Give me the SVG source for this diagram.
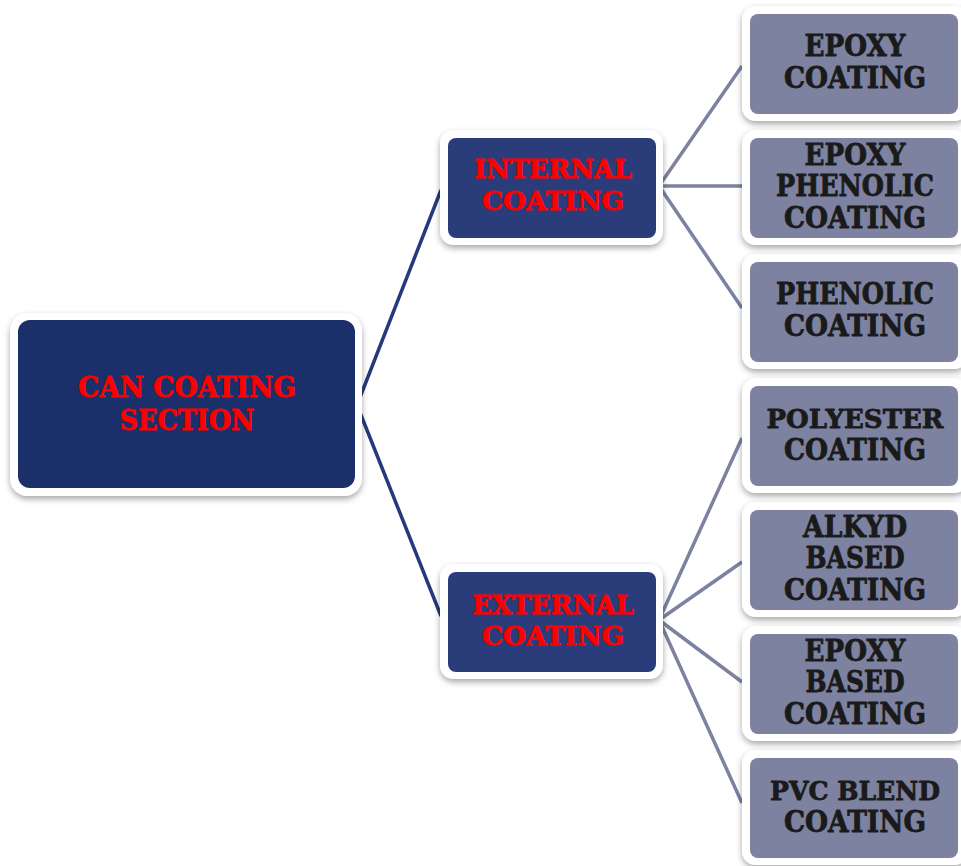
<svg xmlns="http://www.w3.org/2000/svg" width="961" height="866" viewBox="0 0 961 866">
<defs>
<filter id="sh" x="-10%" y="-10%" width="120%" height="130%">
<feDropShadow dx="0" dy="3" stdDeviation="3" flood-color="#000" flood-opacity="0.35"/>
</filter>
<style>
.frame{fill:#fff;filter:url(#sh)}
.root{fill:#1b2f6b}
.mid{fill:#2a3c7a}
.leaf{fill:#7c82a0}
.t{font-family:"DejaVu Serif",serif;font-weight:bold;text-anchor:middle;stroke-width:0.8;stroke-linejoin:round}
.red{fill:#ff0000;stroke:#ff0000}
.dark{fill:#1a1a1a;stroke:#1a1a1a}
.c1{stroke:#26397a;stroke-width:3.5;fill:none}
.c2{stroke:#7c82a0;stroke-width:3.5;fill:none}
</style>
</defs>
<rect width="961" height="866" fill="#fff"/>
<g id="connectors">
<path class="c1" d="M357 405 L441 190 M357 405 L441 616"/>
<path class="c2" d="M659 186 L742 66 M659 186 L742 186 M659 186 L742 308"/>
<path class="c2" d="M659 620 L742 438 M659 620 L742 562 M659 620 L742 682 M659 620 L742 803"/>
</g>
<g id="root">
<rect class="frame" x="10" y="313" width="352" height="183" rx="18"/>
<rect class="root" x="18" y="320" width="337" height="168" rx="12"/>
<text class="t red" font-size="28"><tspan x="187" y="397" textLength="218" lengthAdjust="spacingAndGlyphs">CAN COATING</tspan><tspan x="187" y="430" textLength="135" lengthAdjust="spacingAndGlyphs">SECTION</tspan></text>
</g>
<g id="internal">
<rect class="frame" x="440" y="130" width="223" height="115" rx="14"/>
<rect class="mid" x="448" y="138" width="208" height="100" rx="8"/>
<text class="t red" font-size="26"><tspan x="553" y="178" textLength="158" lengthAdjust="spacingAndGlyphs">INTERNAL</tspan><tspan x="553" y="210" textLength="142" lengthAdjust="spacingAndGlyphs">COATING</tspan></text>
</g>
<g id="external">
<rect class="frame" x="440" y="564" width="223" height="115" rx="14"/>
<rect class="mid" x="448" y="572" width="208" height="100" rx="8"/>
<text class="t red" font-size="26"><tspan x="553" y="614" textLength="162" lengthAdjust="spacingAndGlyphs">EXTERNAL</tspan><tspan x="553" y="645" textLength="142" lengthAdjust="spacingAndGlyphs">COATING</tspan></text>
</g>
<g id="leaf1">
<rect class="frame" x="742" y="6" width="226" height="115" rx="14"/>
<rect class="leaf" x="750" y="14" width="208" height="100" rx="8"/>
<text class="t dark" font-size="29"><tspan x="855" y="56" textLength="101" lengthAdjust="spacingAndGlyphs">EPOXY</tspan><tspan x="855" y="88" textLength="142" lengthAdjust="spacingAndGlyphs">COATING</tspan></text>
</g>
<g id="leaf2">
<rect class="frame" x="742" y="130" width="226" height="115" rx="14"/>
<rect class="leaf" x="750" y="138" width="208" height="100" rx="8"/>
<text class="t dark" font-size="29"><tspan x="855" y="165" textLength="101" lengthAdjust="spacingAndGlyphs">EPOXY</tspan><tspan x="855" y="196" textLength="158" lengthAdjust="spacingAndGlyphs">PHENOLIC</tspan><tspan x="855" y="228" textLength="142" lengthAdjust="spacingAndGlyphs">COATING</tspan></text>
</g>
<g id="leaf3">
<rect class="frame" x="742" y="254" width="226" height="115" rx="14"/>
<rect class="leaf" x="750" y="262" width="208" height="100" rx="8"/>
<text class="t dark" font-size="29"><tspan x="855" y="304" textLength="158" lengthAdjust="spacingAndGlyphs">PHENOLIC</tspan><tspan x="855" y="336" textLength="142" lengthAdjust="spacingAndGlyphs">COATING</tspan></text>
</g>
<g id="leaf4">
<rect class="frame" x="742" y="378" width="226" height="115" rx="14"/>
<rect class="leaf" x="750" y="386" width="208" height="100" rx="8"/>
<text class="t dark" font-size="29"><tspan x="855" y="428" textLength="177" lengthAdjust="spacingAndGlyphs" font-size="26">POLYESTER</tspan><tspan x="855" y="460" textLength="142" lengthAdjust="spacingAndGlyphs">COATING</tspan></text>
</g>
<g id="leaf5">
<rect class="frame" x="742" y="502" width="226" height="115" rx="14"/>
<rect class="leaf" x="750" y="510" width="208" height="100" rx="8"/>
<text class="t dark" font-size="29"><tspan x="855" y="537" textLength="104" lengthAdjust="spacingAndGlyphs">ALKYD</tspan><tspan x="855" y="568" textLength="99" lengthAdjust="spacingAndGlyphs">BASED</tspan><tspan x="855" y="600" textLength="142" lengthAdjust="spacingAndGlyphs">COATING</tspan></text>
</g>
<g id="leaf6">
<rect class="frame" x="742" y="626" width="226" height="115" rx="14"/>
<rect class="leaf" x="750" y="634" width="208" height="100" rx="8"/>
<text class="t dark" font-size="29"><tspan x="855" y="661" textLength="101" lengthAdjust="spacingAndGlyphs">EPOXY</tspan><tspan x="855" y="692" textLength="99" lengthAdjust="spacingAndGlyphs">BASED</tspan><tspan x="855" y="724" textLength="142" lengthAdjust="spacingAndGlyphs">COATING</tspan></text>
</g>
<g id="leaf7">
<rect class="frame" x="742" y="750" width="226" height="115" rx="14"/>
<rect class="leaf" x="750" y="758" width="208" height="100" rx="8"/>
<text class="t dark" font-size="29"><tspan x="855" y="800" textLength="170" lengthAdjust="spacingAndGlyphs" font-size="26">PVC BLEND</tspan><tspan x="855" y="832" textLength="142" lengthAdjust="spacingAndGlyphs">COATING</tspan></text>
</g>
</svg>
